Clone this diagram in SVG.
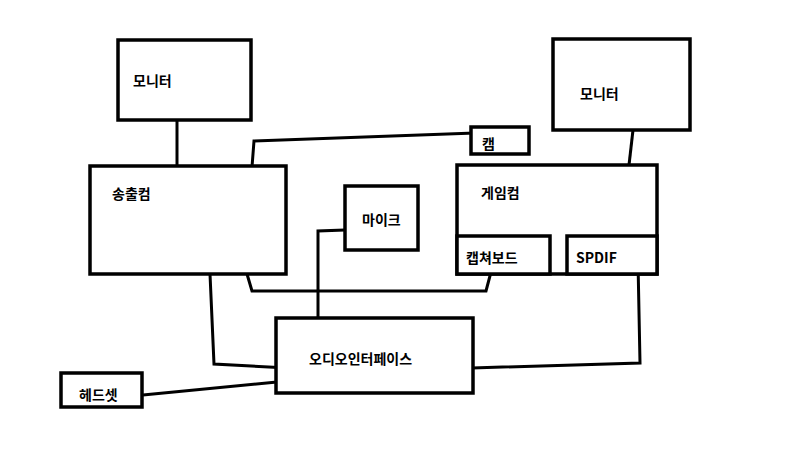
<svg xmlns="http://www.w3.org/2000/svg" width="800" height="450" viewBox="0 0 800 450">
<style>
.box{fill:#fff;stroke:#000;stroke-width:3.5}
.wire{fill:none;stroke:#000;stroke-width:3;stroke-linejoin:miter}
.lbl{font-family:"Noto Sans CJK KR","Noto Sans",sans-serif;font-size:14px;font-weight:bold;fill:#000}
</style>
<rect width="800" height="450" fill="#fff"/>
<g id="connectors">
<path class="wire" d="M177,120 L177,166"/>
<path class="wire" d="M252,167 L254,141 L475,133"/>
<path class="wire" d="M633,130 L629,165"/>
<path class="wire" d="M247,274 L252,291 L486,291 L491,272"/>
<path class="wire" d="M345,230 L318,231 L318,332"/>
<path class="wire" d="M210,274 L214,364 L288,368"/>
<path class="wire" d="M638,262 L640,363 L472,368"/>
<path class="wire" d="M143,395 L277,382"/>
</g>
<g id="monitor1"><rect class="box" x="118" y="40" width="133" height="80"/><text class="lbl" x="133" y="86">모니터</text></g>
<g id="monitor2"><rect class="box" x="553" y="39" width="137" height="91"/><text class="lbl" x="580" y="99">모니터</text></g>
<g id="broadcastpc"><rect class="box" x="90" y="166" width="196" height="108"/><text class="lbl" x="112" y="199">송출컴</text></g>
<g id="cam"><rect class="box" x="471" y="127" width="58" height="27"/><text class="lbl" x="482" y="149">캠</text></g>
<g id="gamepc"><rect class="box" x="457" y="165" width="200" height="109"/><text class="lbl" x="481" y="198">게임컴</text></g>
<g id="capture"><rect class="box" x="457" y="236" width="93" height="38"/><text class="lbl" x="466" y="263">캡쳐보드</text></g>
<g id="spdif"><rect class="box" x="567" y="236" width="90" height="38"/><text class="lbl" x="576" y="263">SPDIF</text></g>
<g id="mic"><rect class="box" x="345" y="186" width="73" height="64"/><text class="lbl" x="362" y="225">마이크</text></g>
<g id="audio"><rect class="box" x="276" y="318" width="197" height="75"/><text class="lbl" x="309" y="364">오디오인터페이스</text></g>
<g id="headset"><rect class="box" x="61" y="373" width="81" height="34"/><text class="lbl" x="79" y="400">헤드셋</text></g>
</svg>
